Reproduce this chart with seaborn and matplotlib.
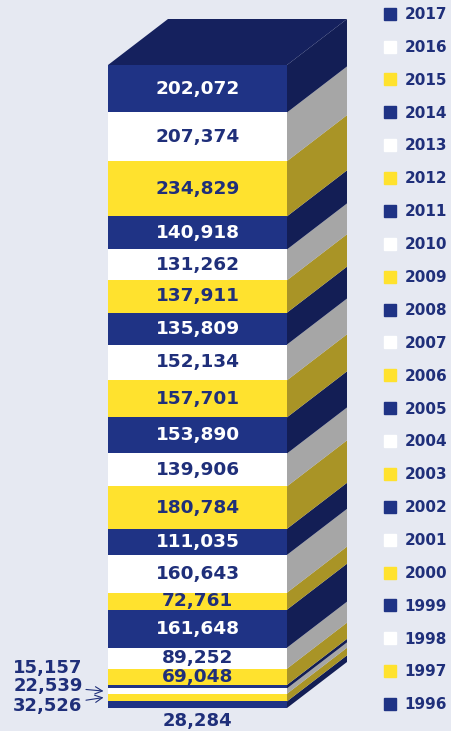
import matplotlib
matplotlib.use("Agg")
import matplotlib.pyplot as plt
from matplotlib.patches import Polygon
from matplotlib.lines import Line2D
import pandas as pd
import seaborn as sns

years = [1996, 1997, 1998, 1999, 2000, 2001, 2002, 2003, 2004, 2005, 2006,
         2007, 2008, 2009, 2010, 2011, 2012, 2013, 2014, 2015, 2016, 2017]
values = [28284, 32526, 22539, 15157, 69048, 89252, 161648, 72761, 160643,
          111035, 180784, 139906, 153890, 157701, 152134, 135809, 137911,
          131262, 140918, 234829, 207374, 202072]

# front / side colours, cycling blue -> yellow -> white from 1996
front_cols = ["#1F3385", "#FFE22E", "#FFFFFF"]
side_cols = ["#131E55", "#A99426", "#A6A6A6"]
text_cols = ["white", "#1F2F7A", "#1F2F7A"]
top_col = "#15215E"
navy = "#1F2F7A"
bg = "#E6E9F2"

df = pd.DataFrame({"year": years, "value": values})
df["top"] = df["value"].cumsum()
df["bottom"] = df["top"] - df["value"]
df["kind"] = [i % 3 for i in range(len(df))]
total = df["top"].iloc[-1]

W, H = 451, 731
sns.set_theme(style="white")
plt.rcParams["font.family"] = ["DejaVu Sans"]
fig = plt.figure(figsize=(W / 100, H / 100), dpi=100, facecolor=bg)
ax = fig.add_axes([0, 0, 1, 1])
ax.set_facecolor(bg)

# pixel mapping: front face from x=108..287, y=65..708 (from top)
px_per_x = 179 / 0.8
upp = total / 643.0
xmin = -0.4 - 108 / px_per_x
xmax = xmin + W / px_per_x
ymin = -23 * upp
ymax = ymin + H * upp

# stacked front faces: draw cumulative bars tallest first
for _, row in df.iloc[::-1].iterrows():
    sns.barplot(x=["all"], y=[row["top"]], color=front_cols[row["kind"]],
                saturation=1, width=0.8, linewidth=0, errorbar=None, ax=ax)

dx = 60 / px_per_x
dy = 46 * upp
xl, xr = -0.4, 0.4
for _, row in df.iterrows():
    b, t = row["bottom"], row["top"]
    ax.add_patch(Polygon([(xr, b), (xr + dx, b + dy), (xr + dx, t + dy), (xr, t)],
                         closed=True, facecolor=side_cols[row["kind"]], edgecolor="none"))
ax.add_patch(Polygon([(xl, total), (xl + dx, total + dy), (xr + dx, total + dy), (xr, total)],
                     closed=True, facecolor=top_col, edgecolor="none"))

# labels inside the bar
for _, row in df.iterrows():
    if row["value"] > 50000:
        ax.text(0, row["bottom"] + row["value"] / 2, f"{row['value']:,}",
                ha="center", va="center", fontsize=13.3, fontweight="bold",
                color=text_cols[row["kind"]])

# small segments labelled outside
small = df.set_index("year")
ax.annotate(f"{small.loc[1999, 'value']:,}", xy=(xl, small.loc[1999, "top"]),
            xytext=(48, 63), textcoords="figure pixels", ha="center", va="center",
            fontsize=13, fontweight="bold", color=navy)
for yr, ty in [(1998, 45), (1997, 25)]:
    mid = small.loc[yr, "bottom"] + small.loc[yr, "value"] / 2
    ax.annotate(f"{small.loc[yr, 'value']:,}", xy=(xl - 0.02, mid),
                xytext=(48, ty), textcoords="figure pixels", ha="center", va="center",
                fontsize=13, fontweight="bold", color=navy,
                arrowprops=dict(arrowstyle="->", color=navy, lw=0.8,
                                shrinkA=37, shrinkB=0))
ax.annotate(f"{small.loc[1996, 'value']:,}", xy=(0, 0), xytext=(0, -13),
            textcoords="offset pixels", ha="center", va="center",
            fontsize=13, fontweight="bold", color=navy)

ax.set_xlim(xmin, xmax)
ax.set_ylim(ymin, ymax)
ax.axis("off")

handles = []
labels = []
for _, row in df.iloc[::-1].iterrows():
    c = front_cols[row["kind"]]
    handles.append(Line2D([], [], marker="s", linestyle="none", markersize=8.5,
                          markerfacecolor=c, markeredgecolor=c))
    labels.append(str(row["year"]))
leg = ax.legend(handles, labels, loc="upper left",
                bbox_to_anchor=(383 / W, 1 - 7 / H), frameon=False,
                borderaxespad=0, borderpad=0, labelspacing=1.17,
                handlelength=0.9, handletextpad=0.5,
                prop={"size": 11, "weight": "bold"})
for t in leg.get_texts():
    t.set_color(navy)

fig.savefig("out.png", dpi=100, facecolor=bg)
